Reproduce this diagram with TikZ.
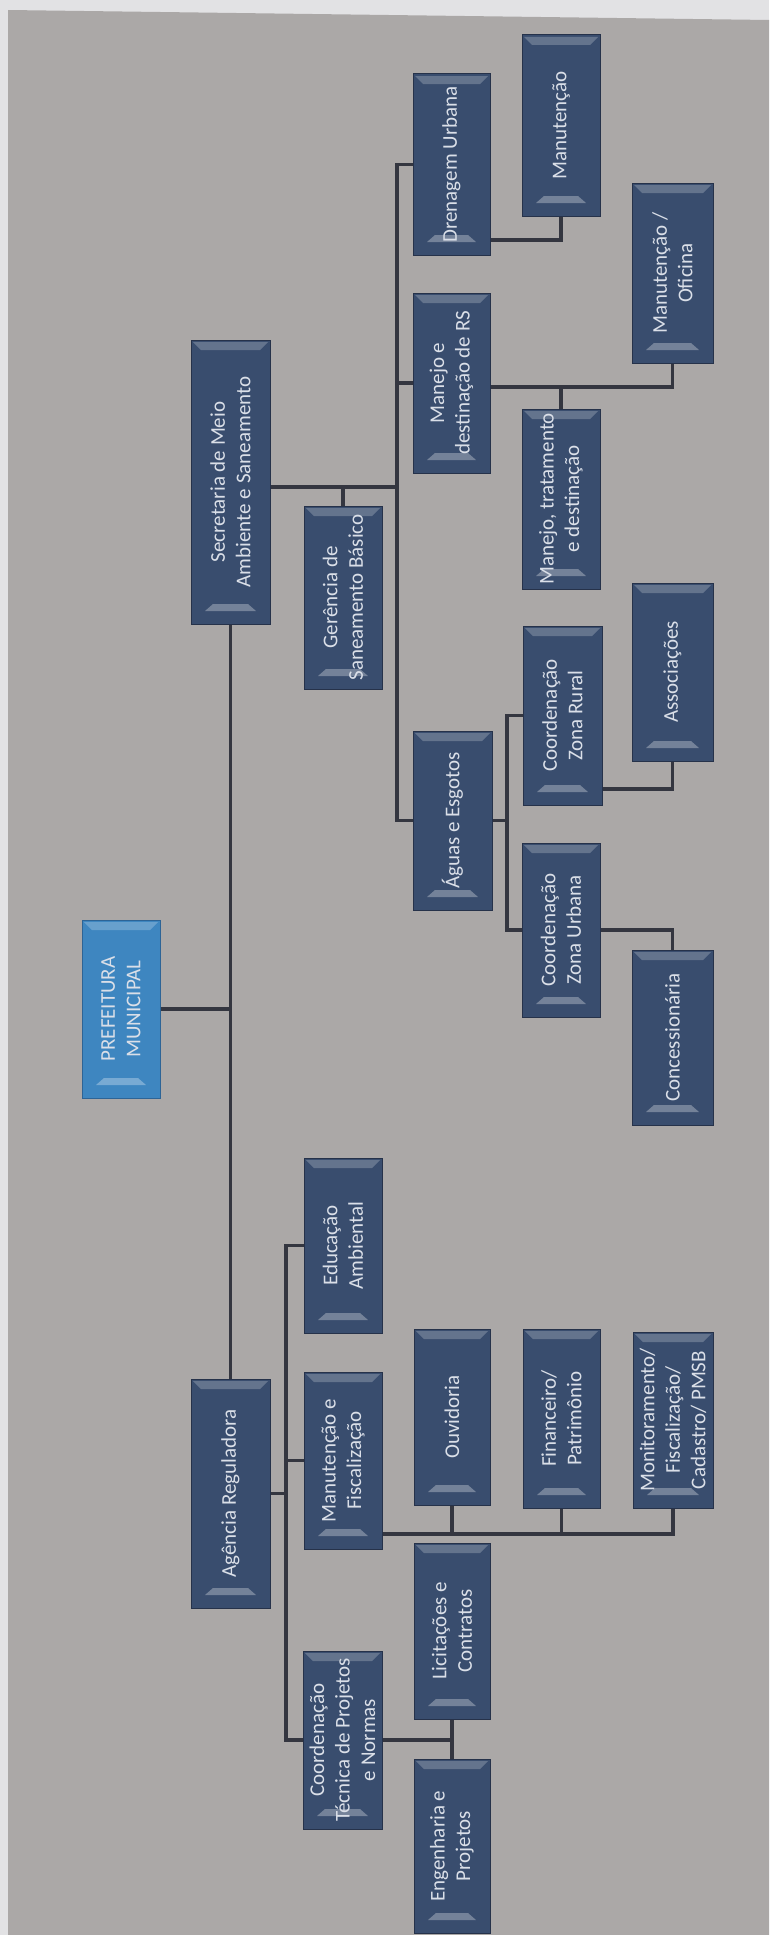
\documentclass[tikz,border=0pt]{standalone}
\usepackage{fontspec}
\setmainfont{Carlito}
\usetikzlibrary{calc}
\pgfdeclarelayer{back}
\pgfdeclarelayer{lines}
\pgfsetlayers{back,lines,main}
\definecolor{paper}{RGB}{171,168,167}
\definecolor{margin}{RGB}{226,226,228}
\definecolor{boxcol}{RGB}{57,77,110}
\definecolor{boxedge}{RGB}{38,50,74}
\definecolor{prefcol}{RGB}{62,134,192}
\definecolor{prefedge}{RGB}{45,100,150}
\definecolor{txtcol}{RGB}{218,223,232}
\definecolor{linecol}{RGB}{52,54,64}
\tikzset{
  orgbox/.style={fill=boxcol,draw=boxedge,line width=1pt,inner sep=0pt,outer sep=0pt},
  prefbox/.style={fill=prefcol,draw=prefedge},
  lbl/.style={rotate=90,align=center,text=txtcol,inner sep=0pt,
    font=\fontsize{21}{25.5}\selectfont},
  conn/.style={draw=linecol,line width=3.6pt,line cap=butt,line join=miter},
  hltop/.style={fill=white,fill opacity=0.22},
  hlbot/.style={fill=white,fill opacity=0.30}
}
\newcommand\obox[7]{%
  \node[orgbox,#1,minimum width=#5pt,minimum height=#6pt] (#2) at (#3,#4) {};
  \fill[hltop] ([shift={(2,2)}]#2.north west) -- ([shift={(-2,2)}]#2.north east)
     -- ([shift={(-10,10)}]#2.north east) -- ([shift={(10,10)}]#2.north west) -- cycle;
  \fill[hlbot] ([shift={(14,-13)}]#2.south west) -- ([shift={(-14,-13)}]#2.south east)
     -- ([shift={(-22,-20)}]#2.south east) -- ([shift={(22,-20)}]#2.south west) -- cycle;
  \node[lbl] (#2-t) at (#2.center) {#7};
}
\begin{document}
\begin{tikzpicture}[x=1pt,y=-1pt]
\useasboundingbox (0,0) rectangle (769,1935);
\begin{pgfonlayer}{back}
  \fill[margin] (0,0) rectangle (769,1935);
  \fill[paper] (8,10) -- (769,20) -- (769,1935) -- (8,1935) -- cycle;
\end{pgfonlayer}

% boxes
\obox{}{man1}{561}{125.5}{78}{181}{Manutenção}
\obox{}{dren}{451.5}{164.5}{77}{181}{Drenagem Urbana}
\obox{}{ofic}{672.5}{273}{81}{180}{Manutenção /\\Oficina}
\obox{}{rs}{451.5}{383}{77}{180}{Manejo e\\destinação de RS}
\obox{}{mtd}{561}{499}{78}{180}{Manejo, tratamento\\e destinação}
\obox{}{sec}{230.5}{482}{79}{284}{Secretaria de Meio\\Ambiente e Saneamento}
\obox{}{ger}{343}{597.5}{78}{183}{Gerência de\\Saneamento Básico}
\obox{}{agu}{452.5}{820.5}{79}{179}{Águas e Esgotos}
\obox{}{rur}{562.5}{715.5}{79}{179}{Coordenação\\Zona Rural}
\obox{}{ass}{672.5}{672}{81}{178}{Associações}
\obox{}{urb}{561}{930}{78}{174}{Coordenação\\Zona Urbana}
\obox{}{con}{672.5}{1037.5}{81}{175}{Concessionária}
\obox{prefbox}{pref}{121}{1009}{78}{178}{PREFEITURA\\MUNICIPAL}
\obox{}{edu}{343}{1245.5}{78}{175}{Educação\\Ambiental}
\obox{}{age}{230.5}{1493.5}{79}{229}{Agência Reguladora}
\obox{}{mf}{343}{1460.5}{78}{177}{Manutenção e\\Fiscalização}
\obox{}{ouv}{452}{1417}{76}{176}{Ouvidoria}
\obox{}{fin}{561.5}{1418.5}{77}{179}{Financeiro/\\Patrimônio}
\obox{}{mon}{673}{1420}{80}{176}{Monitoramento/\\Fiscalização/\\Cadastro/ PMSB}
\obox{}{lic}{452}{1631}{76}{176}{Licitações e\\Contratos}
\obox{}{ctp}{342.5}{1740}{79}{178}{Coordenação\\Técnica de Projetos\\e Normas}
\obox{}{eng}{452}{1846}{76}{174}{Engenharia e\\Projetos}

% connectors
\coordinate (T) at (397,0);
\coordinate (A) at (507,0);
\coordinate (B) at (286,0);
\coordinate (secl) at ($(sec.east)+(0,5)$);
\coordinate (rsl) at ($(rs.east)+(0,4)$);
\coordinate (mfl) at ($(mf.south east)+(0,-15)$);
\begin{pgfonlayer}{lines}
  \draw[conn] (sec.south) -- (age.north);
  \draw[conn] (pref.east) -- (pref.east -| sec.south);
  % secretaria branch
  \draw[conn] (secl) -- (secl -| T);
  \draw[conn] (ger.north) -- (ger.north |- secl);
  \draw[conn] (dren.west) -- (dren.west -| T) -- (agu.west -| T) -- (agu.west);
  \draw[conn] (rs.west) -- (rs.west -| T);
  \draw[conn] ($(dren.south east)+(0,-15)$) -| (man1.south);
  \draw[conn] (rsl) -| (ofic.south);
  \draw[conn] (mtd.north) -- (mtd.north |- rsl);
  \draw[conn] (agu.east) -- (agu.east -| A);
  \draw[conn] (rur.west) -- (rur.west -| A) -- (urb.west -| A) -- (urb.west);
  \draw[conn] ($(rur.south east)+(0,-16)$) -| (ass.south);
  \draw[conn] (urb.east) -| (con.north);
  % agencia branch
  \draw[conn] (age.east) -- (age.east -| B);
  \draw[conn] (edu.west) -- (edu.west -| B) -- (ctp.west -| B) -- (ctp.west);
  \draw[conn] (mf.west) -- (mf.west -| B);
  \draw[conn] (mfl) -| (mon.south);
  \draw[conn] (ouv.south) -- (ouv.south |- mfl);
  \draw[conn] (fin.south) -- (fin.south |- mfl);
  \draw[conn] (ctp.east) -- (ctp.east -| lic.south);
  \draw[conn] (lic.south) -- (eng.north);
\end{pgfonlayer}
\end{tikzpicture}
\end{document}
